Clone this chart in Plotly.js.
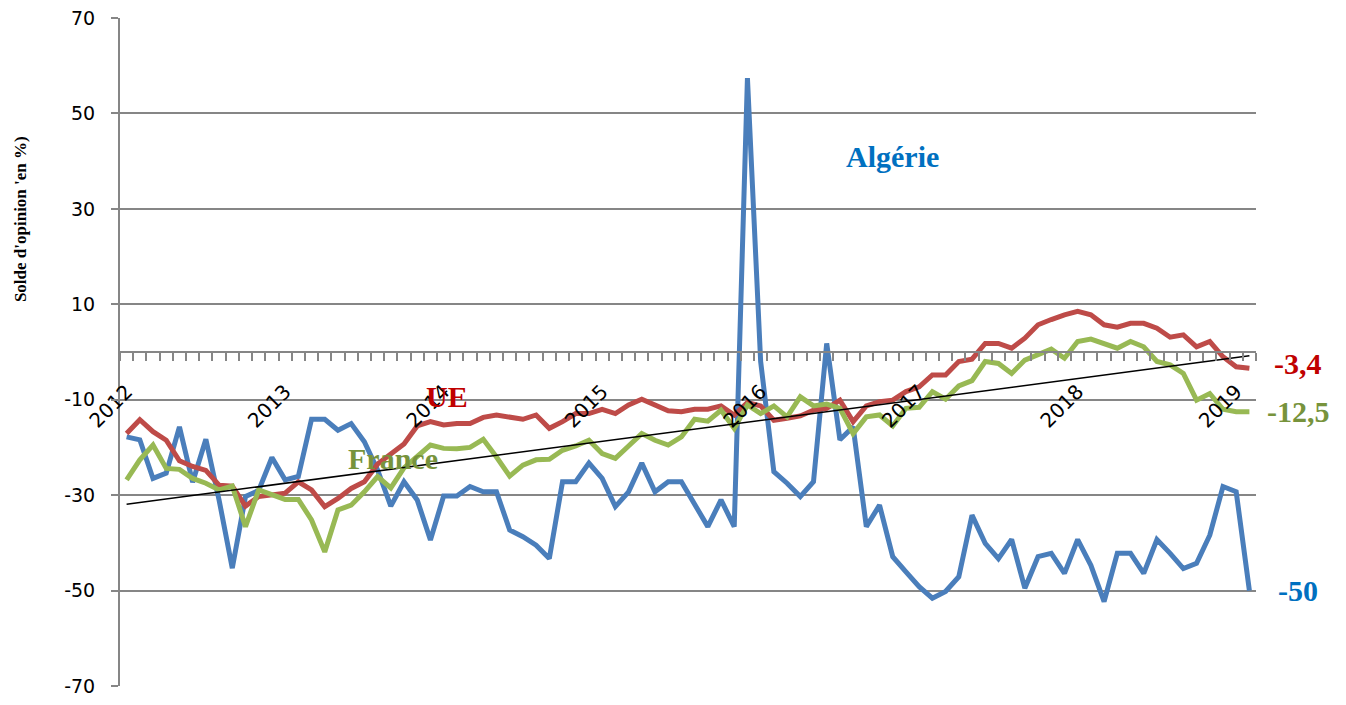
<!DOCTYPE html>
<html>
<head>
<meta charset="utf-8">
<script src="https://cdn.plot.ly/plotly-3.0.1.min.js"></script>
<style>html,body{margin:0;padding:0;background:#fff;}#chart{width:1346px;height:705px;}</style>
</head>
<body>
<div id="chart"></div>
<script>
// Monthly categories, Jan 2012 - Feb 2019
const years = ['2012','2013','2014','2015','2016','2017','2018','2019'];
const categories = [];
years.forEach(y => { for (let m = 1; m <= 12; m++) { categories.push(y + '-' + String(m).padStart(2, '0')); } });
categories.length = 86;

const algerie = [
  -17.8, -18.4, -26.5, -25.4, -15.7, -27.3, -18.3, -31, -45.3, -30.3, -29, -22.1,
  -26.8, -26.1, -14.1, -14.1, -16.4, -15, -18.8, -24.7, -32.3, -27.2, -31, -39.4,
  -30.2, -30.2, -28.2, -29.3, -29.3, -37.3, -38.7, -40.5, -43.3, -27.2, -27.2, -23.3,
  -26.5, -32.4, -29.3, -23.3, -29.3, -27.2, -27.2, -32, -36.6, -31, -36.6, 57.4,
  -2, -25.1, -27.5, -30.3, -27.2, 1.8, -18.4, -15.7, -36.6, -32.1, -42.9, -46.1,
  -49.2, -51.6, -50.2, -47.1, -34.2, -40.1, -43.3, -39.3, -49.5, -42.9, -42.2, -46.4,
  -39.3, -44.7, -52.3, -42.2, -42.2, -46.4, -39.3, -42.2, -45.4, -44.3, -38.4, -28.2,
  -29.3, -50
];
const ue = [
  -17.1, -14.2, -16.7, -18.5, -22.8, -24, -24.8, -27.9, -28.1, -32.3, -30.3, -30,
  -29.6, -27.2, -28.9, -32.4, -30.7, -28.6, -27.2, -23.5, -21.3, -19.3, -15.5, -14.6,
  -15.3, -15, -15, -13.7, -13.2, -13.6, -14.1, -13.2, -16, -14.6, -12.9, -12.9,
  -12, -12.9, -11.1, -9.9, -11.1, -12.3, -12.5, -12, -12, -11.3, -13.2, -10.6,
  -11.3, -14.3, -13.9, -13.4, -12.2, -11.8, -10.1, -14.6, -11.3, -10.4, -10.1, -8.3,
  -7.3, -4.8, -4.8, -2, -1.5, 1.8, 1.8, 0.8, 2.9, 5.7, 6.8, 7.8,
  8.5, 7.8, 5.7, 5.2, 6, 6, 5, 3.1, 3.6, 1.1, 2.2, -1,
  -3.1, -3.4
];
const france = [
  -26.8, -22.6, -19.5, -24.4, -24.6, -26.5, -27.5, -28.9, -28.1, -36.6, -28.9, -29.8,
  -30.9, -30.9, -35.2, -41.9, -33.1, -32.1, -29.3, -26.1, -28.5, -24.3, -22, -19.5,
  -20.2, -20.3, -20, -18.3, -22, -26, -23.7, -22.6, -22.5, -20.6, -19.7, -18.5,
  -21.3, -22.3, -19.7, -17.1, -18.5, -19.5, -17.8, -14.1, -14.5, -12.2, -16, -11.1,
  -12.9, -11.3, -13.6, -9.4, -11.3, -10.9, -11.8, -17.1, -13.6, -13.2, -15.5, -11.8,
  -11.6, -8.3, -9.9, -7.1, -6, -2, -2.4, -4.5, -1.7, -0.6, 0.6, -1.3,
  2.2, 2.7, 1.8, 0.8, 2.2, 1.1, -2, -2.7, -4.5, -10.1, -8.7, -12,
  -12.5, -12.5
];
// Linear trend line (first and last month)
const trendCategories = ['2012-01', '2019-02'];
const trendValues = [-31.9, -0.8];

const yTicks = [-70, -50, -30, -10, 10, 30, 50, 70];
const yTickText = yTicks.map(String);
const yearTickCats = years.map(y => y + '-01');

const idx = c => categories.indexOf(c);
const xs = categories.map((c, i) => i);

const fmt = v => String(v).replace('.', ',');

const serif = 'Liberation Serif, Times New Roman, serif';
const sans = 'DejaVu Sans, Verdana, sans-serif';

const traces = [
  {x: xs, y: algerie, type: 'scatter', mode: 'lines', name: 'Algérie',
   line: {color: '#4A7EBB', width: 5}},
  {x: xs, y: ue, type: 'scatter', mode: 'lines', name: 'UE',
   line: {color: '#BE4B48', width: 5}},
  {x: xs, y: france, type: 'scatter', mode: 'lines', name: 'France',
   line: {color: '#98B954', width: 5}},
  {x: trendCategories.map(idx), y: trendValues, type: 'scatter', mode: 'lines', name: 'Tendance',
   line: {color: '#000000', width: 1.5}}
];

const last = a => a[a.length - 1];
const lab = (x, y, text, color, xref, extra) => Object.assign({
  xref: xref, yref: 'y', x: x, y: y, text: '<b>' + text + '</b>', showarrow: false,
  xanchor: 'center', yanchor: 'middle',
  font: {family: serif, size: 30, color: color}
}, extra || {});

const layout = {
  width: 1346, height: 705,
  margin: {l: 120, r: 90, t: 18, b: 19},
  paper_bgcolor: '#ffffff', plot_bgcolor: '#ffffff',
  showlegend: false,
  xaxis: {
    type: 'linear', range: [-0.5, categories.length - 0.5],
    anchor: 'free', position: 0.5,
    showline: true, linecolor: '#868686', linewidth: 2,
    showgrid: false, zeroline: false,
    tickmode: 'array', tickvals: yearTickCats.map(idx), ticktext: years,
    ticks: '', tickangle: -45, ticklabelstandoff: 19,
    tickfont: {family: sans, size: 20, color: '#000'},
    minor: {tickmode: 'linear', tick0: 0.5, dtick: 1, ticks: 'outside', ticklen: 8,
            tickwidth: 2, tickcolor: '#868686', showgrid: false}
  },
  yaxis: {
    range: [-70, 70], tickmode: 'array', tickvals: yTicks, ticktext: yTickText,
    showline: true, linecolor: '#868686', linewidth: 2,
    showgrid: true, gridcolor: '#868686', gridwidth: 2,
    zeroline: false,
    ticks: 'outside', ticklen: 7, tickwidth: 2, tickcolor: '#868686',
    ticklabelstandoff: 12,
    tickfont: {family: sans, size: 19, color: '#000'}
  },
  annotations: [
    {xref: 'paper', yref: 'paper', x: -0.088, y: 0.699, xanchor: 'center', yanchor: 'middle',
     text: "<b>Solde d'opinion 'en %)</b>",
     textangle: -90, showarrow: false, font: {family: serif, size: 17, color: '#000'}},
    lab(58.0, 40.9, 'Algérie', '#0070C0', 'x'),
    lab(24.25, -9.4, 'UE', '#C00000', 'x'),
    lab(20.2, -22.3, 'France', '#77933C', 'x'),
    lab(1.037, last(ue), fmt(last(ue)), '#C00000', 'paper', {yshift: 5}),
    lab(1.037, last(france), fmt(last(france)), '#77933C', 'paper'),
    lab(1.037, last(algerie), fmt(last(algerie)), '#0070C0', 'paper')
  ]
};

Plotly.newPlot('chart', traces, layout, {displayModeBar: false, staticPlot: true});
</script>
</body>
</html>
